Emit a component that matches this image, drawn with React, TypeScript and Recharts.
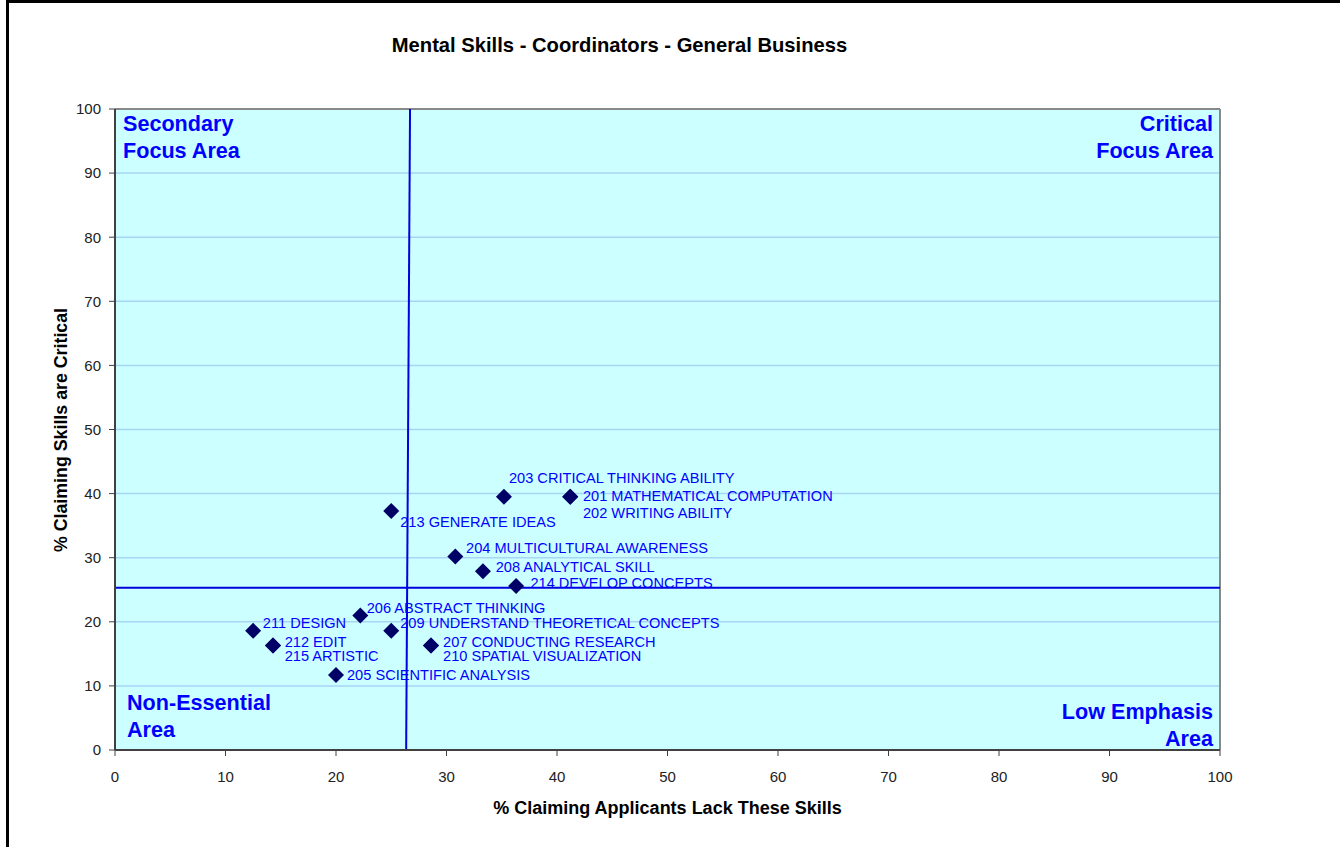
import { CartesianGrid, ReferenceLine, Scatter, ScatterChart, XAxis, YAxis } from 'recharts'

const skills = [
  '201 MATHEMATICAL COMPUTATION', '202 WRITING ABILITY', '203 CRITICAL THINKING ABILITY',
  '204 MULTICULTURAL AWARENESS', '205 SCIENTIFIC ANALYSIS', '206 ABSTRACT THINKING',
  '207 CONDUCTING RESEARCH', '208 ANALYTICAL SKILL', '209 UNDERSTAND THEORETICAL CONCEPTS',
  '210 SPATIAL VISUALIZATION', '211 DESIGN', '212 EDIT', '213 GENERATE IDEAS',
  '214 DEVELOP CONCEPTS', '215 ARTISTIC',
]
const lackPct = [41.2, 41.2, 35.2, 30.8, 20.0, 22.2, 28.6, 33.3, 25.0, 28.6, 12.5, 14.3, 25.0, 36.3, 14.3]
const criticalPct = [39.5, 39.5, 39.5, 30.2, 11.7, 21.0, 16.3, 27.9, 18.6, 16.3, 18.6, 16.3, 37.3, 25.6, 16.3]
const ticks = [0, 10, 20, 30, 40, 50, 60, 70, 80, 90, 100]
const avgLack = [26.7, 26.35] // top, bottom
const avgCritical = 25.3

// where each label sits relative to its marker (Excel had them dragged by hand)
const labelOffsets: [number, number][] = [
  [12.7, -1], [12.7, 16], [5, -19], [10.7, -8.7], [11, 0], [6.4, -7.7], [12, -4], [12.7, -4],
  [9, -7.3], [12, 10.7], [9.7, -7.3], [11.7, -4], [9, 11], [14.3, -3], [11.7, 10.7],
]

const data = skills.map((name, i) => ({ x: lackPct[i], y: criticalPct[i], name, i }))

const FONT = "'Liberation Sans', Arial, sans-serif"
const BLUE = '#0000ff'

function Diamond(props: any) {
  const { cx, cy, payload } = props
  const r = 8
  const [dx, dy] = labelOffsets[payload.i]
  return (
    <g>
      <path d={`M${cx},${cy - r}L${cx + r},${cy}L${cx},${cy + r}L${cx - r},${cy}Z`} fill="#000066" />
      <text x={cx + dx} y={cy + dy} dominantBaseline="central" fontSize={14.6} fill={BLUE} fontFamily={FONT}>
        {payload.name}
      </text>
    </g>
  )
}

const quad = { position: 'absolute' as const, color: BLUE, fontWeight: 700, fontSize: 21.6, lineHeight: '27px' }

export default function App() {
  return (
    <div style={{ position: 'absolute', left: 0, top: 0, width: 1340, height: 847, overflow: 'hidden', background: '#fff', fontFamily: FONT }}>
      <ScatterChart width={1340} height={847} margin={{ top: 109, right: 120, bottom: 47, left: 55 }}>
        <CartesianGrid vertical={false} stroke="#a9d5f5" strokeWidth={1.5} fill="#ccffff" fillOpacity={1} />
        <XAxis type="number" dataKey="x" domain={[0, 100]} ticks={ticks} height={50}
          tick={{ fontSize: 15, fill: '#222', fontFamily: FONT }} tickSize={6} tickMargin={15}
          axisLine={{ stroke: '#404040', strokeWidth: 2 }} tickLine={{ stroke: '#404040' }} />
        <YAxis type="number" dataKey="y" domain={[0, 100]} ticks={ticks} width={60}
          tick={{ fontSize: 15, fill: '#222', fontFamily: FONT }} tickSize={6} tickMargin={8}
          axisLine={{ stroke: '#404040', strokeWidth: 2 }} tickLine={{ stroke: '#404040' }} />
        <ReferenceLine y={100} stroke="#888" strokeWidth={2} />
        <ReferenceLine x={100} stroke="#888" strokeWidth={2} />
        <ReferenceLine y={avgCritical} stroke="#0000dd" strokeWidth={2} />
        <ReferenceLine segment={[{ x: avgLack[0], y: 100 }, { x: avgLack[1], y: 0 }]} stroke="#0000dd" strokeWidth={2} />
        <Scatter data={data} shape={Diamond} isAnimationActive={false} />
      </ScatterChart>

      <div style={{ position: 'absolute', left: 0, width: 1239, top: 33, textAlign: 'center', fontWeight: 700, fontSize: 20.2, lineHeight: '24px' }}>
        Mental Skills - Coordinators - General Business
      </div>
      <div style={{ position: 'absolute', left: 0, width: 1335, top: 797, textAlign: 'center', fontWeight: 700, fontSize: 18, lineHeight: '22px' }}>
        % Claiming Applicants Lack These Skills
      </div>
      <div style={{ position: 'absolute', left: 61 - 200, top: 429.5 - 11, width: 400, textAlign: 'center', fontWeight: 700, fontSize: 17.8, lineHeight: '22px', transform: 'rotate(-90deg)' }}>
        % Claiming Skills are Critical
      </div>

      <div style={{ ...quad, left: 123, top: 110 }}>Secondary<br />Focus Area</div>
      <div style={{ ...quad, right: 127, top: 110, textAlign: 'right' }}>Critical<br />Focus Area</div>
      <div style={{ ...quad, left: 127, top: 689 }}>Non-Essential<br />Area</div>
      <div style={{ ...quad, right: 127, top: 698, textAlign: 'right' }}>Low Emphasis<br />Area</div>

      <div style={{ position: 'absolute', left: 6, top: 0, width: 2000, height: 2000, borderTop: '3px solid #000', borderLeft: '3px solid #000', pointerEvents: 'none', zIndex: 5 }} />
    </div>
  )
}
